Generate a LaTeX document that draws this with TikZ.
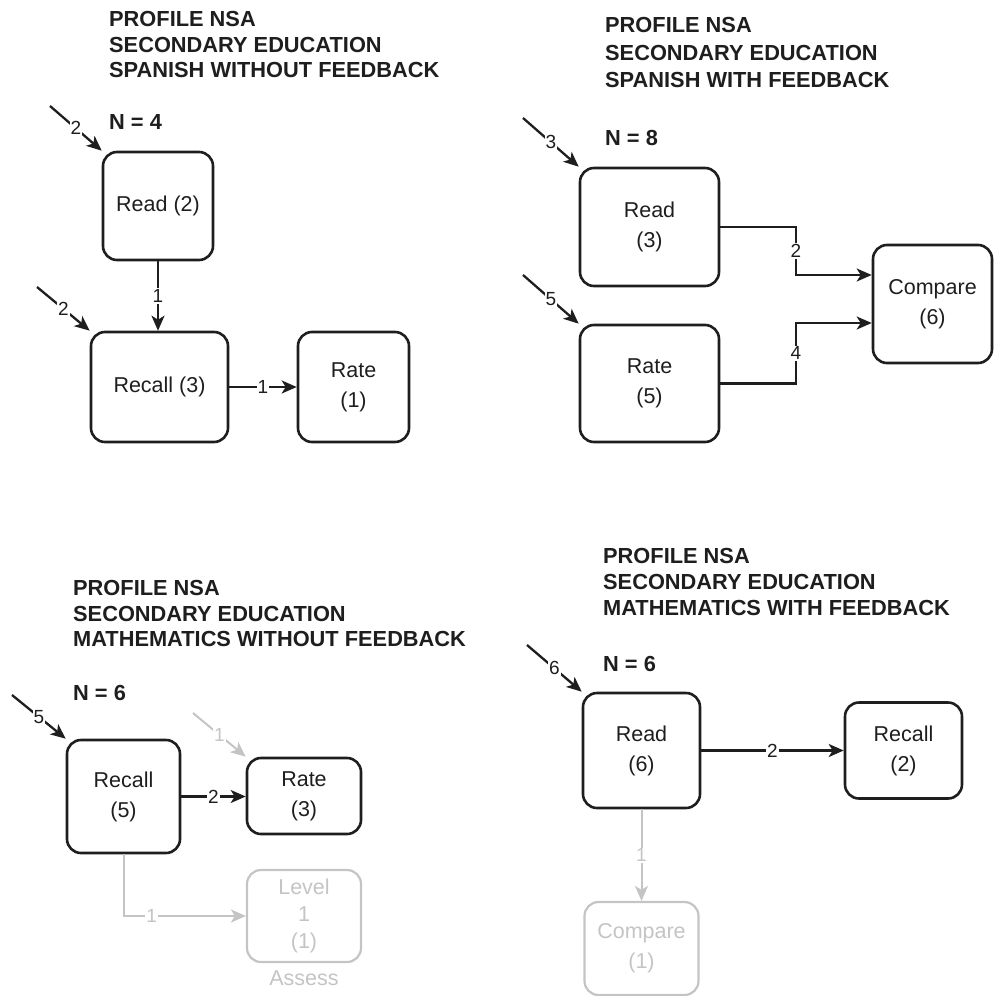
\documentclass[tikz,border=0pt]{standalone}
\usepackage{fontspec}
\setmainfont{Liberation Sans}
\usetikzlibrary{arrows.meta}
\definecolor{ink}{HTML}{1E1E1E}
\definecolor{faint}{HTML}{C4C4C4}
\tikzset{
  box/.style={draw=ink, text=ink, line width=2.6pt, rounded corners=14pt, align=center,
    font=\fontsize{21.5}{30}\selectfont, inner sep=0pt},
  gbox/.style={box, draw=faint, text=faint, line width=2.2pt},
  edge/.style={draw=ink, line width=2.3pt, -{Stealth[length=15pt,width=13pt,inset=4pt]}},
  gedge/.style={edge, draw=faint, line width=2pt},
  lab/.style={fill=white, text=ink, inner sep=1pt, font=\fontsize{19}{19}\selectfont},
  glab/.style={lab, text=faint},
  ttl/.style={anchor=base west, inner sep=0pt, text=ink, font=\bfseries\fontsize{21.8}{26}\selectfont},
}
\begin{document}
\begin{tikzpicture}[x=1pt,y=-1pt]
\useasboundingbox (0,0) rectangle (994,996);

% ---------- top left ----------
\node[ttl] (ta1) at (109,26) {PROFILE NSA};
\node[ttl] (ta2) at (109,52) {SECONDARY EDUCATION};
\node[ttl] (ta3) at (109,77) {SPANISH WITHOUT FEEDBACK};
\node[ttl] (na) at (109,129) {N = 4};
\node[box, minimum width=110pt, minimum height=108pt] (rdA) at (158,206) {Read (2)};
\node[box, minimum width=137pt, minimum height=110pt] (rcA) at (159.5,387) {Recall (3)};
\node[box, minimum width=111pt, minimum height=110pt] (rtA) at (353.5,387) {Rate\\(1)};
\coordinate (sA1) at (50,106);
\coordinate (sA2) at (37,287);
\draw[edge] (sA1) -- node[lab]{2} (rdA.north west);
\draw[edge] (sA2) -- node[lab]{2} (rcA.north west);
\draw[edge] (rdA.south) -- node[lab]{1} (rdA.south |- rcA.north);
\draw[edge] (rcA.east) -- node[lab]{1} (rtA.west);

% ---------- top right ----------
\node[ttl] (tb1) at (605,32) {PROFILE NSA};
\node[ttl] (tb2) at (605,60) {SECONDARY EDUCATION};
\node[ttl] (tb3) at (605,87) {SPANISH WITH FEEDBACK};
\node[ttl] (nb) at (605,145) {N = 8};
\node[box, minimum width=139pt, minimum height=118pt] (rdB) at (649.5,227) {Read\\(3)};
\node[box, minimum width=139pt, minimum height=117pt] (rtB) at (649.5,383.5) {Rate\\(5)};
\node[box, minimum width=119pt, minimum height=118pt] (cpB) at (932.5,304) {Compare\\(6)};
\coordinate (sB1) at (523,118);
\coordinate (sB2) at (523,275);
\draw[edge] (sB1) -- node[lab]{3} (rdB.north west);
\draw[edge] (sB2) -- node[lab]{5} (rtB.north west);
\coordinate (jB1) at (796,275);
\coordinate (jB2) at (796,323);
\draw[edge] (rdB.east) -| node[lab,pos=0.75]{2} (jB1) -- (jB1 -| cpB.west);
\draw[edge] (rtB.east) -| node[lab,pos=0.75]{4} (jB2) -- (jB2 -| cpB.west);

% ---------- bottom left ----------
\node[ttl] (tc1) at (73,595) {PROFILE NSA};
\node[ttl] (tc2) at (73,621) {SECONDARY EDUCATION};
\node[ttl] (tc3) at (73,646) {MATHEMATICS WITHOUT FEEDBACK};
\node[ttl] (nc) at (73,700) {N = 6};
\node[box, minimum width=113pt, minimum height=113pt] (rcC) at (123.5,796.5) {Recall\\(5)};
\node[box, minimum width=114pt, minimum height=76pt] (rtC) at (304,796) {Rate\\(3)};
\node[gbox, minimum width=114pt, minimum height=92pt, font=\fontsize{21.5}{27}\selectfont] (lvC) at (304,916) {Level\\1\\(1)};
\node[text=faint, font=\fontsize{21.5}{24}\selectfont, inner sep=0pt] (asC) at (304,978) {Assess};
\coordinate (sC1) at (12,695);
\coordinate (sC2) at (193,713);
\draw[edge] (sC1) -- node[lab]{5} (rcC.north west);
\draw[gedge] (sC2) -- node[glab]{1} (rtC.north west);
\draw[edge] (rcC.east) -- node[lab]{2} (rtC.west |- rcC.east);
\draw[gedge] (rcC.south) |- node[glab,pos=0.615]{1} (lvC.west);

% ---------- bottom right ----------
\node[ttl] (td1) at (603,563) {PROFILE NSA};
\node[ttl] (td2) at (603,589) {SECONDARY EDUCATION};
\node[ttl] (td3) at (603,615) {MATHEMATICS WITH FEEDBACK};
\node[ttl] (nd) at (603,671) {N = 6};
\node[box, minimum width=117pt, minimum height=115pt] (rdD) at (641.5,750.5) {Read\\(6)};
\node[box, minimum width=117pt, minimum height=96pt] (rcD) at (903.5,750.5) {Recall\\(2)};
\node[gbox, minimum width=114pt, minimum height=93pt] (cpD) at (641.5,948.5) {Compare\\(1)};
\coordinate (sD1) at (527,645);
\draw[edge] (sD1) -- node[lab]{6} (rdD.north west);
\draw[edge] (rdD.east) -- node[lab]{2} (rcD.west);
\draw[gedge] (rdD.south) -- node[glab]{1} (cpD.north);
\end{tikzpicture}
\end{document}
